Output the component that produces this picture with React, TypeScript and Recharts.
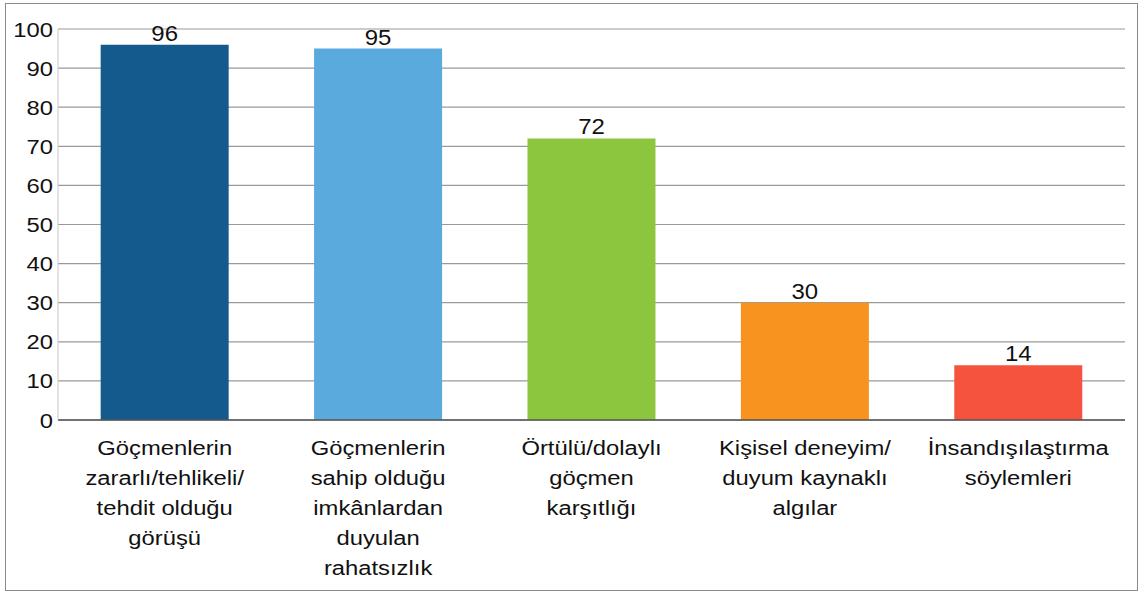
import React from 'react';
import { BarChart, Bar, XAxis, YAxis, CartesianGrid, Cell, LabelList } from 'recharts';

const categories = [
  'Göçmenlerin\nzararlı/tehlikeli/\ntehdit olduğu\ngörüşü',
  'Göçmenlerin\nsahip olduğu\nimkânlardan\nduyulan\nrahatsızlık',
  'Örtülü/dolaylı\ngöçmen\nkarşıtlığı',
  'Kişisel deneyim/\nduyum kaynaklı\nalgılar',
  'İnsandışılaştırma\nsöylemleri',
];
const values = [96, 95, 72, 30, 14];
const yTicks = [0, 10, 20, 30, 40, 50, 60, 70, 80, 90, 100];

const COLORS = ['#155a8c', '#5aaade', '#8cc63f', '#f7931e', '#f5533d'];
const FONT = '"Liberation Sans", Arial, Helvetica, sans-serif';

const data = categories.map((name, i) => ({ name, value: values[i] }));

// the source picture is stretched a little sideways, so text gets a horizontal scale
const CategoryTick = (props: any) => {
  const { x, y, payload } = props;
  const lines: string[] = String(payload.value).split('\n');
  return (
    <g transform={`translate(${x},${y}) scale(1.19,1)`}>
      <text textAnchor="middle" fill="#111" fontSize={20} fontFamily={FONT}>
        {lines.map((line, i) => (
          <tspan key={i} x={0} y={27 + i * 30}>
            {line}
          </tspan>
        ))}
      </text>
    </g>
  );
};

const ValueTick = (props: any) => {
  const { x, y, payload } = props;
  return (
    <g transform={`translate(${x + 6},${y}) scale(1.16,1)`}>
      <text x={0} y={0} dy="0.37em" textAnchor="end" fill="#111" fontSize={20.5} fontFamily={FONT}>
        {payload.value}
      </text>
    </g>
  );
};

const BarValue = (props: any) => {
  const { x, y, width, value } = props;
  return (
    <g transform={`translate(${x + width / 2},${y - 4}) scale(1.09,1)`}>
      <text x={0} y={0} textAnchor="middle" fill="#111" fontSize={22} fontFamily={FONT}>
        {value}
      </text>
    </g>
  );
};

const App: React.FC = () => {
  return (
    <div style={{ position: 'absolute', left: 0, top: 0, width: 1142, height: 594, background: '#fff' }}>
      <div
        style={{
          position: 'absolute',
          left: 5,
          top: 3,
          width: 1131,
          height: 586,
          border: '1.5px solid #8a8a8a',
        }}
      />
      <div style={{ position: 'absolute', left: 0, top: 0 }}>
        <BarChart
          width={1142}
          height={594}
          data={data}
          margin={{ top: 29, right: 17, bottom: 0, left: 0 }}
          barCategoryGap="20%"
        >
          <CartesianGrid horizontal vertical={false} stroke="#9a9a9a" strokeWidth={1.2} />
          <XAxis
            dataKey="name"
            tick={<CategoryTick />}
            tickLine={false}
            axisLine={{ stroke: '#555', strokeWidth: 1.5 }}
            interval={0}
            height={174}
          />
          <YAxis
            domain={[0, 100]}
            ticks={yTicks}
            interval={0}
            width={58}
            tickLine={false}
            axisLine={{ stroke: '#c8c8c8' }}
            tick={<ValueTick />}
            tickMargin={5}
          />
          <Bar dataKey="value" isAnimationActive={false}>
            {data.map((_d, i) => (
              <Cell key={`c-${i}`} fill={COLORS[i]} />
            ))}
            <LabelList dataKey="value" content={<BarValue />} />
          </Bar>
        </BarChart>
      </div>
    </div>
  );
};

export default App;
